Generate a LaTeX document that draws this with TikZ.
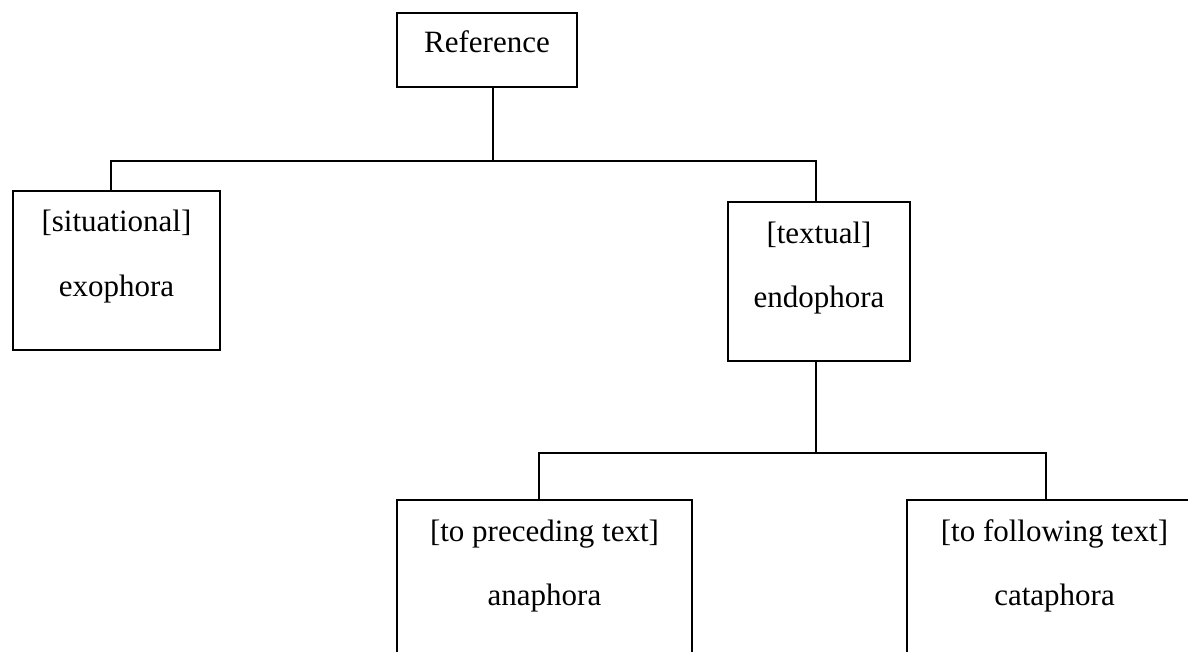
\documentclass[tikz,border=0pt]{standalone}
\usepackage{fontspec}
\setmainfont{Liberation Serif}
\usetikzlibrary{calc}
\begin{document}
\begin{tikzpicture}[x=0.5pt,y=-0.5pt]
\tikzset{
    box/.style={rectangle,draw,line width=1pt,minimum height=79.5pt,inner sep=0pt},
    upper/.style={anchor=base,yshift=-21pt,font=\fontsize{15.5}{18}\selectfont},
    lower/.style={anchor=base,yshift=-53pt,font=\fontsize{15.5}{18}\selectfont},
    link/.style={line width=1pt}
}
\useasboundingbox (0,0) rectangle (1188,652);
\clip (0,0) rectangle (1188,652);
% boxes
\node[box,minimum width=90pt,minimum height=37pt] (ref) at (487,50) {};
\node[box,minimum width=103.5pt] (exo) at (116.5,270.5) {};
\node[box,minimum width=91pt] (endo) at (819,281.5) {};
\node[box,minimum width=147.5pt] (ana) at (544.5,579.5) {};
\node[box,minimum width=147.5pt] (cata) at (1054.5,579.5) {};
% texts
\node[anchor=base,font=\fontsize{15.5}{18}\selectfont] (reftxt) at (487,53) {Reference};
\node[upper] (exotop) at (exo.north) {[situational]};
\node[lower] (exobot) at (exo.north) {exophora};
\node[upper] (endotop) at (endo.north) {[textual]};
\node[lower] (endobot) at (endo.north) {endophora};
\node[upper] (anatop) at (ana.north) {[to preceding text]};
\node[lower] (anabot) at (ana.north) {anaphora};
\node[upper] (catatop) at (cata.north) {[to following text]};
\node[lower] (catabot) at (cata.north) {cataphora};
% connectors
\coordinate (j1) at (493,161);
\coordinate (j2) at (816,453);
\coordinate (exoin) at (111,191);
\coordinate (endoin) at (816,202);
\coordinate (anain) at (539,500);
\coordinate (catain) at (1046,500);
\draw[link] (j1 |- ref.south) -- (j1);
\draw[link] (exoin) |- (j1) -| (endoin);
\draw[link] (j2 |- endo.south) -- (j2);
\draw[link] (anain) |- (j2) -| (catain);
\end{tikzpicture}
\end{document}
